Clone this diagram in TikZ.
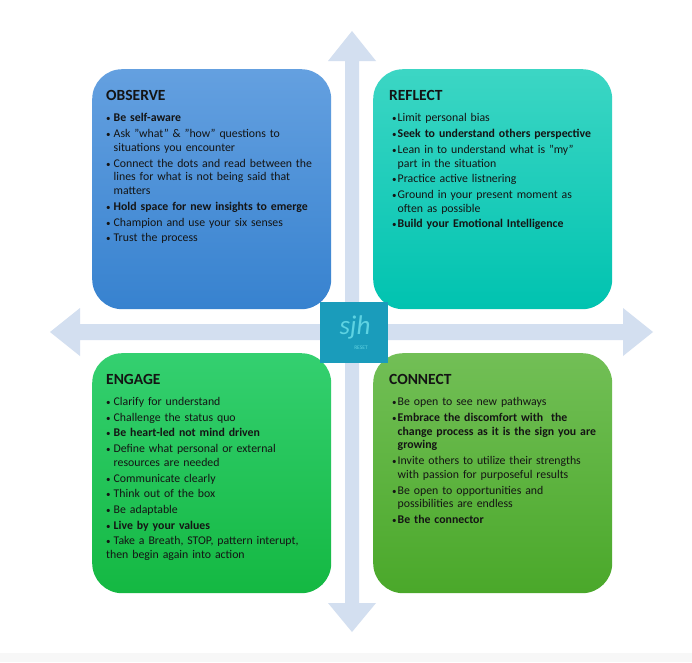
\documentclass[tikz,border=0pt]{standalone}
\usepackage{fontspec}
\setmainfont{Carlito}
\definecolor{arrowc}{HTML}{D3DFF0}
\definecolor{obsT}{HTML}{64A0E0}
\definecolor{obsB}{HTML}{3782CF}
\definecolor{refT}{HTML}{3CD6C4}
\definecolor{refB}{HTML}{00C3B0}
\definecolor{engT}{HTML}{34D070}
\definecolor{engB}{HTML}{14B842}
\definecolor{conT}{HTML}{72BF56}
\definecolor{conB}{HTML}{4AA82A}
\definecolor{logoc}{HTML}{1A9CBB}
\definecolor{logot}{HTML}{5ED3E2}
\definecolor{txtc}{HTML}{141414}
\newlength\itmw
\setlength\itmw{7.5pt}
\newcommand\itm[1]{\par\hangindent=\itmw\hangafter=1\noindent\hbox to \itmw{{\fontsize{9}{9}\selectfont\textbullet}\hfil}#1}
\newcommand\hd[2][0pt]{\noindent\hspace*{#1}{\fontsize{15.5}{16}\selectfont\bfseries #2}\par\vspace{5.3pt}}
\tikzset{
  quad/.style={rounded corners=30pt, minimum width=239pt, minimum height=240pt, inner sep=0pt, draw=none},
  body/.style={anchor=north west, text width=232pt, align=left, inner sep=0pt, text=txtc,
     font=\fontsize{11.8}{13.8}\selectfont\setlength{\parskip}{1.9pt}},
  bodyr/.style={body, font=\fontsize{11.8}{13.8}\selectfont\setlength{\parskip}{1.9pt}\setlength\itmw{5.5pt}},
}
\begin{document}
\begin{tikzpicture}[x=1pt,y=-1pt]
\useasboundingbox (0,0) rectangle (692,662);
\fill[white] (0,0) rectangle (692,662);
\fill[black!3] (0,653) rectangle (692,662);
% arrows
\fill[arrowc] (345,61) -- (328,61) -- (352,31) -- (376,61) -- (359,61) -- (359,603) -- (376,603) -- (352,632) -- (328,603) -- (345,603) -- cycle;
\fill[arrowc] (80,324) -- (80,308) -- (50,332) -- (80,356) -- (80,340) -- (623,340) -- (623,356) -- (653,332) -- (623,308) -- (623,324) -- cycle;
% boxes
\node[quad, top color=obsT, bottom color=obsB, anchor=north west] (obs) at (92,69) {};
\node[quad, top color=refT, bottom color=refB, anchor=north west] (ref) at (373,69) {};
\node[quad, top color=engT, bottom color=engB, anchor=north west] (eng) at (92,353) {};
\node[quad, top color=conT, bottom color=conB, anchor=north west] (con) at (373,353) {};
% logo
\node[fill=logoc, minimum width=68pt, minimum height=61pt, inner sep=0pt, anchor=north west] (logo) at (320,302) {};
\node[text=logot, font=\fontsize{27}{27}\selectfont\itshape] (sjh) at (355,327) {sjh};
\node[text=logot, font=\fontsize{5.5}{5.5}\selectfont] (reset) at (361,348) {RESET};
% texts
\node[body] (obsT) at (106,90.5) {\hd{OBSERVE}%
\itm{\textbf{Be self-aware}}
\itm{Ask "what" \& "how" questions to\newline situations you encounter}
\itm{Connect the dots and read between the\newline lines for what is not being said that\newline matters}
\itm{\textbf{Hold space for new insights to emerge}}
\itm{Champion and use your six senses}
\itm{Trust the process}};
\node[bodyr] (refT) at (392,90.5) {\hd[-3pt]{REFLECT}%
\itm{Limit personal bias}
\itm{\textbf{Seek to understand others perspective}}
\itm{Lean in to understand what is "my"\newline part in the situation}
\itm{Practice active listnering}
\itm{Ground in your present moment as\newline often as possible}
\itm{\textbf{Build your Emotional Intelligence}}};
\node[body] (engT) at (106,374.2) {\hd{ENGAGE}%
\itm{Clarify for understand}
\itm{Challenge the status quo}
\itm{\textbf{Be heart-led not mind driven}}
\itm{Define what personal or external\newline resources are needed}
\itm{Communicate clearly}
\itm{Think out of the box}
\itm{Be adaptable}
\itm{\textbf{Live by your values}}
\itm{Take a Breath, STOP, pattern interupt,\newline then begin again into action}};
\node[bodyr] (conT) at (392,374.2) {\hd[-3pt]{CONNECT}%
\itm{Be open to see new pathways}
\itm{\textbf{Embrace the discomfort with\ \ the\newline change process as it is the sign you are\newline growing}}
\itm{Invite others to utilize their strengths\newline with passion for purposeful results}
\itm{Be open to opportunities and\newline possibilities are endless}
\itm{\textbf{Be the connector}}};
\end{tikzpicture}
\end{document}
